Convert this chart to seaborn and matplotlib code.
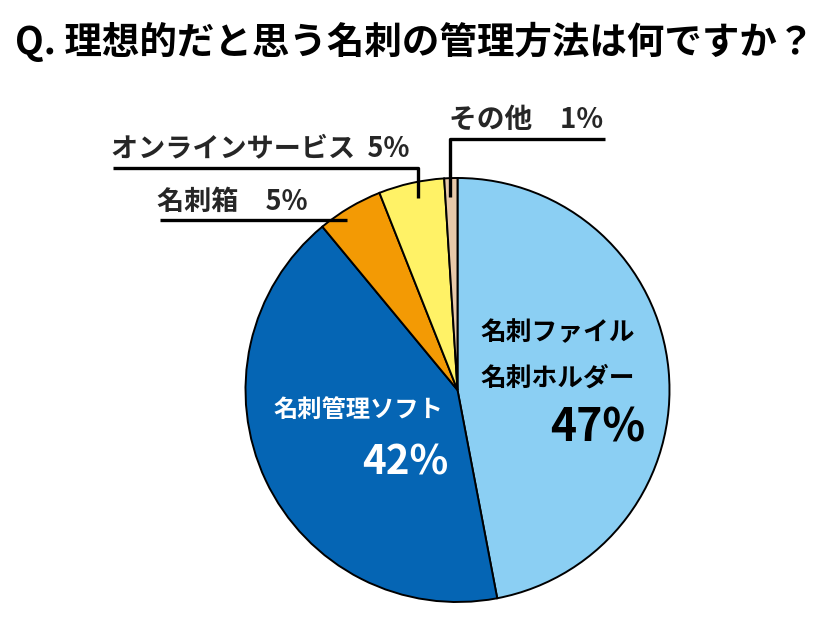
import matplotlib
matplotlib.use("Agg")
import matplotlib.pyplot as plt
import seaborn as sns

# ---- data ----
categories = ["名刺ファイル\n名刺ホルダー", "名刺管理ソフト", "名刺箱", "オンラインサービス", "その他"]
values = [47, 42, 5, 5, 1]
colors = ["#8BCFF3", "#0565B4", "#F39A04", "#FFF266", "#E8C9A9"]
title = "Q. 理想的だと思う名刺の管理方法は何ですか？"

sns.set_theme(style="white")
plt.rcParams['font.family'] = ['Noto Sans CJK JP', 'DejaVu Sans']
plt.rcParams['font.weight'] = 'bold'

W, H = 826, 620
fig = plt.figure(figsize=(W / 100, H / 100), dpi=100)
ax = fig.add_axes([0, 0, 1, 1])
ax.set_xlim(0, W)
ax.set_ylim(0, H)
ax.set_aspect("equal")
ax.axis("off")

def Y(py):
    return H - py

cx, cy, r = 457.5, 390, 212
ax.pie(values, colors=colors, startangle=90, counterclock=False,
       center=(cx, Y(cy)), radius=r,
       wedgeprops=dict(edgecolor="black", linewidth=1.4))
ax.set_xlim(0, W)
ax.set_ylim(0, H)

ax.text(W / 2 + 2, Y(42), title, ha="center", va="center",
        fontsize=27, fontweight="bold", color="black")

# inside labels
ax.text(480, Y(333), "名刺ファイル", ha="left", va="center", fontsize=18.5, fontweight="bold", color="black")
ax.text(480, Y(378), "名刺ホルダー", ha="left", va="center", fontsize=18.5, fontweight="bold", color="black")
ax.text(645, Y(428), f"{values[0]}%", ha="right", va="center", fontsize=32, fontweight="bold", color="black")

ax.text(443, Y(410), categories[1], ha="right", va="center", fontsize=17.5, fontweight="bold", color="white")
ax.text(448, Y(463), f"{values[1]}%", ha="right", va="center", fontsize=29, fontweight="bold", color="white")

# outside labels with leader lines
lw = 2.4
ax.text(157, Y(202), f"{categories[2]}　{values[2]}%", ha="left", va="center", fontsize=19.5, fontweight="bold")
ax.plot([160, 347], [Y(220), Y(220)], color="black", lw=lw, solid_capstyle="butt")

ax.text(111, Y(148), f"{categories[3]}  {values[3]}%", ha="left", va="center", fontsize=19.5, fontweight="bold")
ax.plot([113, 418, 418], [Y(168), Y(168), Y(198)], color="black", lw=lw, solid_capstyle="butt")

ax.text(449, Y(120), f"{categories[4]}　{values[4]}%", ha="left", va="center", fontsize=20, fontweight="bold")
ax.plot([605, 450, 450], [Y(139), Y(139), Y(197)], color="black", lw=lw, solid_capstyle="butt")

fig.savefig("out.png", dpi=100)
